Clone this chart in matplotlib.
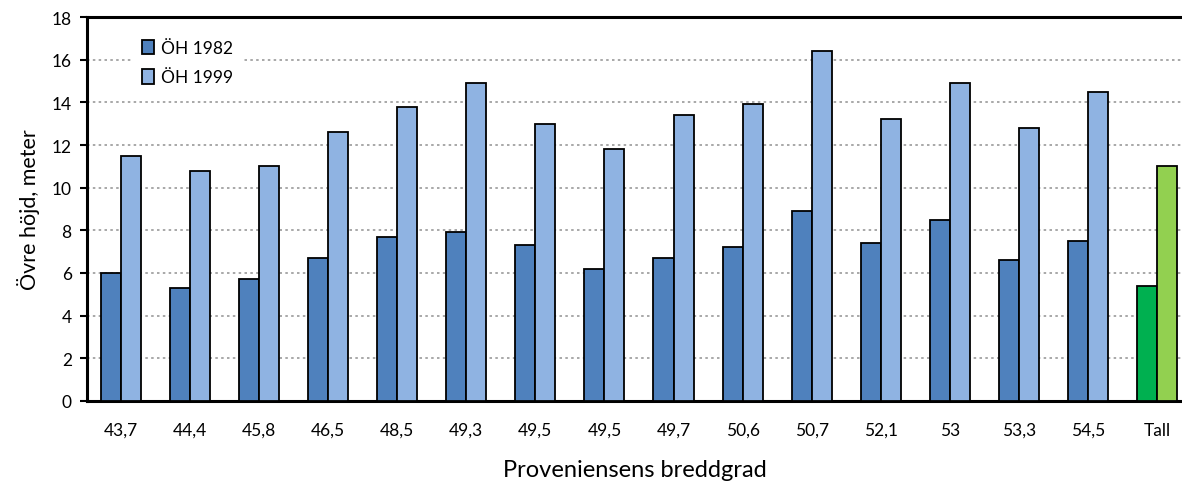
import matplotlib
matplotlib.use("Agg")
import matplotlib.pyplot as plt
import numpy as np

categories = ["43,7", "44,4", "45,8", "46,5", "48,5", "49,3", "49,5", "49,5",
              "49,7", "50,6", "50,7", "52,1", "53", "53,3", "54,5", "Tall"]
oh1982 = [6.0, 5.3, 5.7, 6.7, 7.7, 7.9, 7.3, 6.2, 6.7, 7.2, 8.9, 7.4, 8.5, 6.6, 7.5, 5.4]
oh1999 = [11.5, 10.8, 11.0, 12.6, 13.8, 14.9, 13.0, 11.8, 13.4, 13.9, 16.4, 13.2, 14.9, 12.8, 14.5, 11.0]

plt.rcParams['font.family'] = ['Lato', 'DejaVu Sans']

c1982 = ['#4F81BD'] * 15 + ['#00B050']
c1999 = ['#8FB3E2'] * 15 + ['#92D050']

fig = plt.figure(figsize=(11.82, 4.85), dpi=100)
ax = fig.add_axes([87/1182, 83/485, 1 - 87/1182, 384/485])

x = np.arange(len(categories))
w = 0.29
ax.bar(x - w/2, oh1982, width=w, color=c1982, edgecolor='black', linewidth=1.3, zorder=3, label='ÖH 1982')
ax.bar(x + w/2, oh1999, width=w, color=c1999, edgecolor='black', linewidth=1.3, zorder=3, label='ÖH 1999')

ax.set_ylim(0, 18)
ax.set_yticks(range(0, 19, 2))
ax.set_xlim(-0.49, 15.36)
ax.set_xticks(x)
ax.set_xticklabels(categories)
ax.tick_params(axis='x', length=0, pad=15, labelsize=12.5)
ax.tick_params(axis='y', length=5, width=1.5, direction='out', labelsize=12.5, pad=6)
ax.yaxis.grid(True, linestyle=(0, (1.5, 2)), color='#999999', linewidth=1.2, zorder=0)

for s in ['left', 'bottom', 'top']:
    ax.spines[s].set_linewidth(2.2)
    ax.spines[s].set_color('black')
ax.spines['right'].set_visible(False)

ax.set_ylabel('Övre höjd, meter', fontsize=15.5, labelpad=8)
ax.set_xlabel('Proveniensens breddgrad', fontsize=17, labelpad=15)

leg = ax.legend(loc='upper left', bbox_to_anchor=(0.041, 0.967), frameon=True, facecolor='white',
                edgecolor='none', framealpha=1, fontsize=12.5, handlelength=0.7, handleheight=0.9,
                handletextpad=0.35, labelspacing=0.75, borderpad=0.6, borderaxespad=0, fancybox=False)
for h in leg.legend_handles:
    h.set_linewidth(1.3)
leg.legend_handles[0].set_facecolor('#4F81BD')
leg.legend_handles[1].set_facecolor('#8FB3E2')
leg.set_zorder(5)

fig.savefig('out.png', dpi=100)
